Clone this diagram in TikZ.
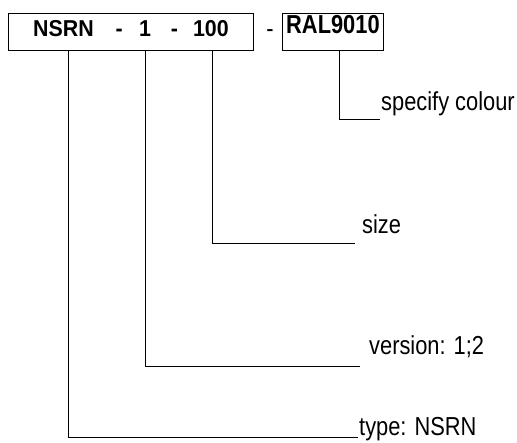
\documentclass[tikz,border=0pt]{standalone}
\usepackage{fontspec}
\setmainfont{Liberation Sans}
\newfontfamily\lblfont[FakeStretch=0.84]{Liberation Sans}
\newfontfamily\codefont[FakeStretch=0.93]{Liberation Sans}
\usetikzlibrary{positioning}
\tikzset{
  codebox/.style={
    draw,
    line width=0.9pt,
    inner sep=0pt,
    anchor=north west
  },
  label/.style={
    anchor=base west,
    inner sep=0pt,
    font=\lblfont\fontsize{26}{28}\selectfont
  },
  leader/.style={
    line width=0.9pt
  }
}

\begin{document}
\begin{tikzpicture}[x=1pt, y=-1pt]
  \useasboundingbox (0,0) rectangle (517,442);
  \node[codebox, minimum width=245pt, text height=23pt, text depth=14pt,
    font=\codefont\bfseries\fontsize{23}{25}\selectfont] (code) at (8,13)
    {NSRN\hspace{21.8pt}-\hspace{16.4pt}1\hspace{20pt}-\hspace{15pt}100\hspace{3.2pt}};
  \node[anchor=base, inner sep=0pt, font=\lblfont\fontsize{26}{28}\selectfont] (sep) at (270,37) {-};
  \node[codebox, minimum width=101pt, text height=20pt, text depth=17pt,
    font=\lblfont\bfseries\fontsize{26}{28}\selectfont] (col) at (282,13) {RAL9010};

  \node[label] (colour) at (381,110) {specify colour};
  \node[label] (sz) at (362,233) {size};
  \node[label] (ver) at (369,354) {version: 1;2};
  \node[label] (typ) at (359,435) {type: NSRN};

  \path (code.south west) ++(60,0) coordinate (tN)
        (code.south west) ++(137,0) coordinate (tV)
        (code.south west) ++(204,0) coordinate (tS)
        (col.south west) ++(57,0) coordinate (tC);

  \draw[leader] (tC) |- ([shift={(-1,9)}]colour.base west);
  \draw[leader] (tS) |- ([shift={(-7,10)}]sz.base west);
  \draw[leader] (tV) |- ([shift={(-9,12)}]ver.base west);
  \draw[leader] (tN) |- ([shift={(-1,2)}]typ.base west);
\end{tikzpicture}
\end{document}
